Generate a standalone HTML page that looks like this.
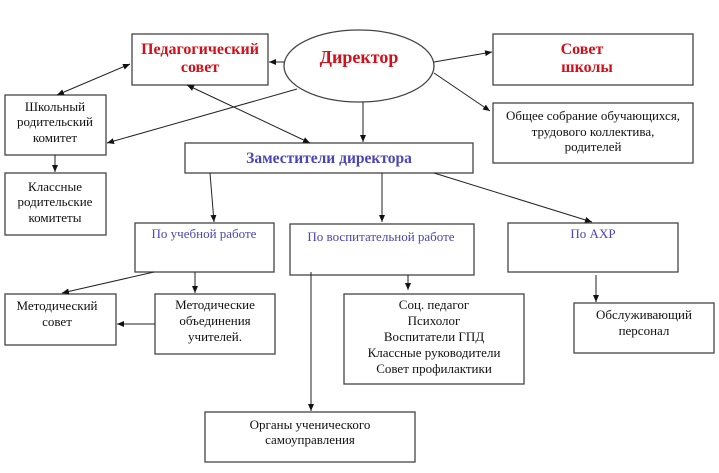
<!DOCTYPE html>
<html><head><meta charset="utf-8"><style>
html,body{margin:0;padding:0;background:#fff}
svg{display:block}
text{font-family:"Liberation Serif","DejaVu Serif",serif;text-anchor:middle}
.b{fill:#fff;stroke:#444;stroke-width:1.3}
.t{font-size:13px;fill:#111}
.r{font-size:16px;font-weight:bold;fill:#d0101a}
.u{font-size:13px;fill:#4a45b8}
line{stroke:#222;stroke-width:1}
</style></head><body>
<svg width="719" height="473" viewBox="0 0 719 473" xmlns="http://www.w3.org/2000/svg">
<defs><marker id="a" markerWidth="8" markerHeight="8" refX="7" refY="3" orient="auto" markerUnits="userSpaceOnUse"><path d="M0,0 L7,3 L0,6 z" fill="#111"/></marker>
<marker id="s" markerWidth="8" markerHeight="8" refX="0" refY="3" orient="auto" markerUnits="userSpaceOnUse"><path d="M7,0 L0,3 L7,6 z" fill="#111"/></marker></defs>

<rect class="b" x="132" y="34" width="136" height="51"/>
<text class="r" x="200" y="54">Педагогический</text><text class="r" x="200" y="72">совет</text>
<ellipse class="b" cx="359" cy="66" rx="75" ry="36"/>
<text class="r" x="359" y="63" style="font-size:18px">Директор</text>
<rect class="b" x="493" y="34" width="200" height="51"/>
<text class="r" x="582" y="54">Совет</text><text class="r" x="587" y="72">школы</text>
<rect class="b" x="493" y="103" width="200" height="60"/>
<text class="t" x="593" y="120">Общее собрание обучающихся,</text><text class="t" x="593" y="136">трудового коллектива,</text><text class="t" x="593" y="151">родителей</text>
<rect class="b" x="5" y="95" width="101" height="60"/>
<text class="t" x="55" y="111">Школьный</text><text class="t" x="55" y="126">родительский</text><text class="t" x="55" y="142">комитет</text>
<rect class="b" x="5" y="173" width="101" height="62"/>
<text class="t" x="55" y="191">Классные</text><text class="t" x="55" y="206">родительские</text><text class="t" x="55" y="222">комитеты</text>
<rect class="b" x="185" y="143" width="288" height="30"/>
<text x="329" y="163" style="font-size:15.5px;font-weight:bold;fill:#4a45b8">Заместители директора</text>
<rect class="b" x="135" y="223" width="139" height="49"/>
<text class="u" x="204" y="238">По учебной работе</text>
<rect class="b" x="290" y="224" width="184" height="51"/>
<text class="u" x="381" y="241">По воспитательной работе</text>
<rect class="b" x="508" y="223" width="170" height="49"/>
<text class="u" x="593" y="238">По АХР</text>
<rect class="b" x="5" y="294" width="111" height="51"/>
<text class="t" x="57" y="310">Методический</text><text class="t" x="57" y="326">совет</text>
<rect class="b" x="155" y="294" width="120" height="60"/>
<text class="t" x="215" y="309">Методические</text><text class="t" x="215" y="325">объединения</text><text class="t" x="215" y="341">учителей.</text>
<rect class="b" x="344" y="294" width="180" height="90"/>
<text class="t" x="434" y="309">Соц. педагог</text><text class="t" x="434" y="325">Психолог</text><text class="t" x="434" y="341">Воспитатели ГПД</text><text class="t" x="434" y="357">Классные руководители</text><text class="t" x="434" y="373">Совет профилактики</text>
<rect class="b" x="574" y="303" width="140" height="50"/>
<text class="t" x="644" y="319">Обслуживающий</text><text class="t" x="644" y="335">персонал</text>
<rect class="b" x="205" y="412" width="210" height="50"/>
<text class="t" x="310" y="429">Органы ученического</text><text class="t" x="310" y="444">самоуправления</text>

<line x1="284" y1="62" x2="269" y2="62" marker-end="url(#a)"/>
<line x1="130" y1="64" x2="57" y2="95" marker-start="url(#s)" marker-end="url(#a)"/>
<line x1="297" y1="89" x2="107" y2="143" marker-end="url(#a)"/>
<line x1="187" y1="85" x2="310" y2="143" marker-start="url(#s)" marker-end="url(#a)"/>
<line x1="363" y1="102" x2="363" y2="142" marker-end="url(#a)"/>
<line x1="434" y1="62" x2="492" y2="52" marker-end="url(#a)"/>
<line x1="434" y1="73" x2="490" y2="111" marker-end="url(#a)"/>
<line x1="55" y1="155" x2="55" y2="172" marker-end="url(#a)"/>
<line x1="210" y1="173" x2="214" y2="222" marker-end="url(#a)"/>
<line x1="382" y1="173" x2="382" y2="222" marker-end="url(#a)"/>
<line x1="434" y1="173" x2="592" y2="222" marker-end="url(#a)"/>
<line x1="154" y1="272" x2="62" y2="293" marker-end="url(#a)"/>
<line x1="195" y1="272" x2="195" y2="293" marker-end="url(#a)"/>
<line x1="155" y1="324" x2="117" y2="324" marker-end="url(#a)"/>
<line x1="408" y1="275" x2="408" y2="290" marker-end="url(#a)"/>
<line x1="596" y1="275" x2="596" y2="302" marker-end="url(#a)"/>
<line x1="311" y1="272" x2="311" y2="411" marker-end="url(#a)"/>
</svg>
</body></html>
